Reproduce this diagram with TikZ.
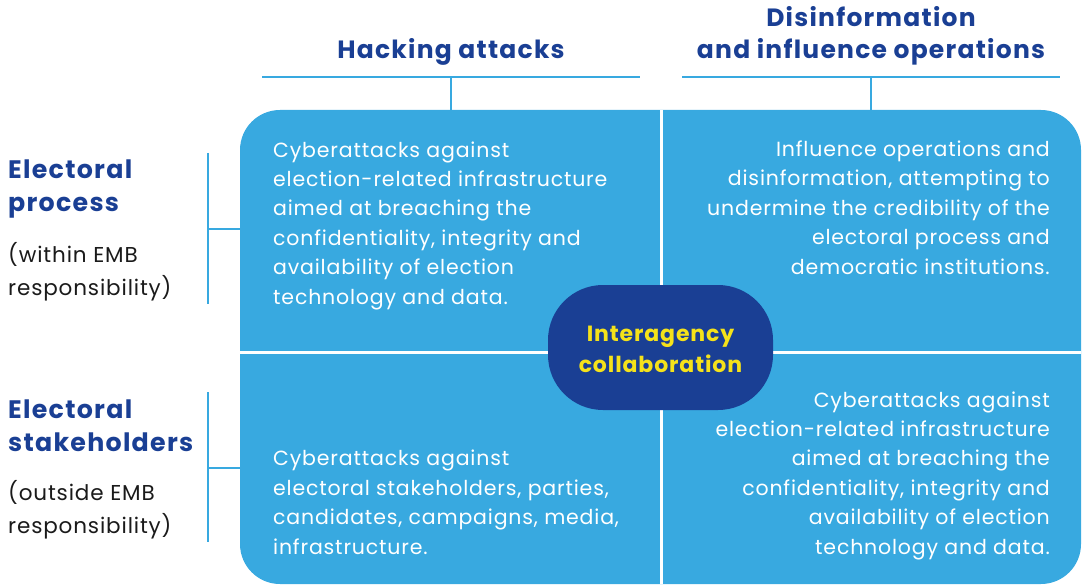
\documentclass[tikz,border=0pt]{standalone}
\usepackage{fontspec}
\setmainfont{Poppins}
\newfontfamily\wideface[LetterSpace=4]{Poppins}
\newfontfamily\wideheadface[LetterSpace=5]{Poppins}
\begin{document}
\definecolor{skyblue}{HTML}{38A9E0}
\definecolor{navy}{HTML}{1A3F94}
\definecolor{accent}{HTML}{F5E21A}
\definecolor{ink}{HTML}{1A1A1A}
\begin{tikzpicture}[x=1pt,y=-1pt,
  body/.style={inner sep=0pt,font=\wideface\fontsize{20.5}{29.4}\selectfont,text=white},
  head/.style={inner sep=0pt,font=\wideheadface\fontsize{25}{32}\selectfont\bfseries,text=navy,align=center,anchor=base},
  side/.style={inner sep=0pt,font=\wideheadface\fontsize{25.3}{32.5}\selectfont\bfseries,text=navy,align=left,anchor=base west},
  note/.style={inner sep=0pt,font=\wideface\fontsize{21.5}{33}\selectfont,text=ink,align=left,anchor=base west},
  link/.style={draw=skyblue,line width=2pt},
  divider/.style={draw=white,line width=3pt}]
\useasboundingbox (0,0) rectangle (1083,585);

% quadrant panel
\fill[skyblue,rounded corners=40pt] (240,110) rectangle (1081,584);
\draw[divider] (661,110) -- (661,584);
\draw[divider] (240,352) -- (1081,352);

% column headings (anchored at the baseline of their last line)
\node[head] (hack) at (451,59) {Hacking attacks};
\node[head] (disinfo) at (871,59) {Disinformation\\and influence operations};
\coordinate (hackL) at (262,77); \coordinate (hackR) at (640,77);
\coordinate (hackM) at (451,77); \coordinate (hackB) at (451,110);
\coordinate (disL) at (682,77); \coordinate (disR) at (1060,77);
\coordinate (disM) at (871,77); \coordinate (disB) at (871,110);
\draw[link] (hackL) -- (hackR);
\draw[link] (hackM) -- (hackB);
\draw[link] (disL) -- (disR);
\draw[link] (disM) -- (disB);

% row headings
\node[side] (proc) at (8,211.5) {Electoral\\process};
\node[note] (within) at (8,295) {(within EMB\\responsibility)};
\node[side] (stake) at (8,451) {Electoral\\stakeholders};
\node[note] (outside) at (8,533) {(outside EMB\\responsibility)};
\coordinate (pT) at (208,153); \coordinate (pB) at (208,304);
\coordinate (pM) at (208,229); \coordinate (pR) at (241,229);
\coordinate (sT) at (208,392); \coordinate (sB) at (208,542);
\coordinate (sM) at (208,468); \coordinate (sR) at (241,468);
\draw[link] (pT) -- (pB);
\draw[link] (pM) -- (pR);
\draw[link] (sT) -- (sB);
\draw[link] (sM) -- (sR);

% quadrant texts
\node[body,align=left,anchor=base west] (q1) at (273,304)
  {Cyberattacks against\\election-related infrastructure\\aimed at breaching the\\confidentiality, integrity and\\availability of election\\technology and data.};
\node[body,align=right,anchor=base east] (q2) at (1050,274)
  {Influence operations and\\disinformation, attempting to\\undermine the credibility of the\\electoral process and\\democratic institutions.};
\node[body,align=left,anchor=base west] (q3) at (273,554)
  {Cyberattacks against\\electoral stakeholders, parties,\\candidates, campaigns, media,\\infrastructure.};
\node[body,align=right,anchor=base east] (q4) at (1050,554)
  {Cyberattacks against\\election-related infrastructure\\aimed at breaching the\\confidentiality, integrity and\\availability of election\\technology and data.};

% centre
\fill[navy,rounded corners=55pt] (548,285) rectangle (773,410);
\node[inner sep=0pt,font=\wideface\fontsize{22}{31}\selectfont\bfseries,text=accent,align=center,anchor=base] (centre) at (660.5,372) {Interagency\\collaboration};
\end{tikzpicture}
\end{document}
